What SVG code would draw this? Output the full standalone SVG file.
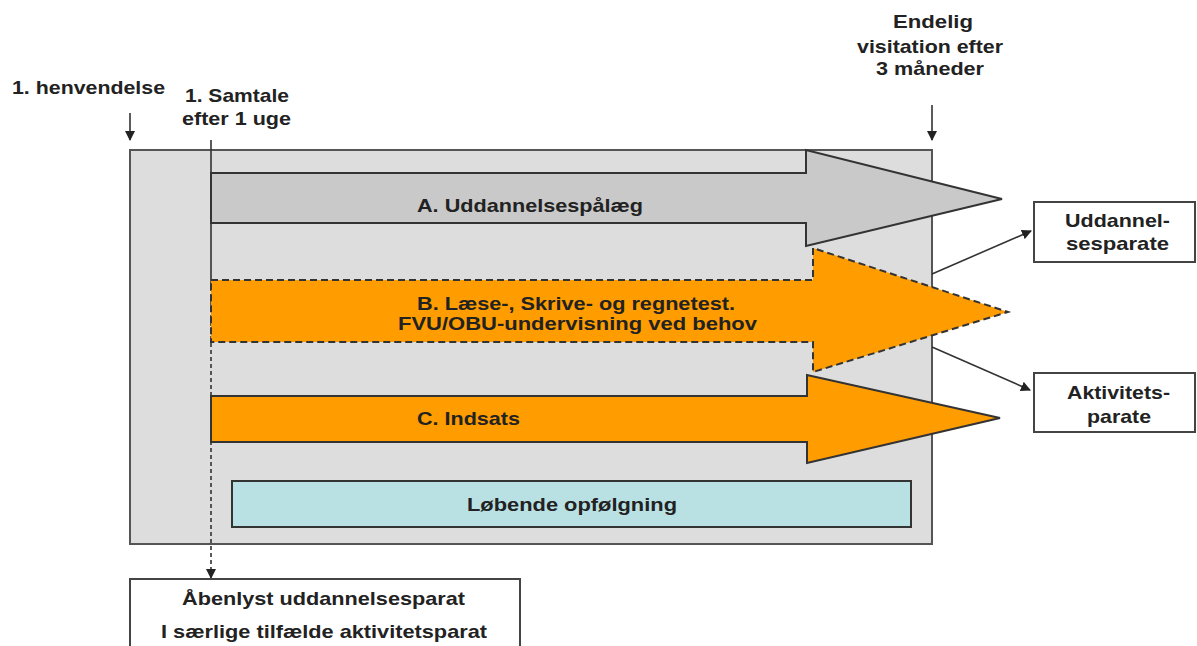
<svg xmlns="http://www.w3.org/2000/svg" width="1197" height="646" viewBox="0 0 1197 646">
<defs>
<style>
text{font-family:"Liberation Sans",Arial,sans-serif;font-weight:bold;fill:#222;}
.lbl{font-size:19px;}
.ln{stroke:#333;stroke-width:1.6;fill:none;}
.box{fill:#fff;stroke:#444;stroke-width:2;}
</style>
<marker id="ah" viewBox="0 0 10 10" refX="9" refY="5" markerWidth="10" markerHeight="10" markerUnits="userSpaceOnUse" orient="auto">
<path d="M0,0 L10,5 L0,10 z" fill="#222"/>
</marker>
</defs>
<rect width="1197" height="646" fill="#fff"/>

<g id="frame">
<rect x="130" y="150" width="802" height="394" fill="#dddddd" stroke="#555" stroke-width="2"/>
</g>

<g id="connectors">
<line class="ln" x1="130" y1="113" x2="130" y2="140" marker-end="url(#ah)"/>
<line class="ln" x1="932" y1="105" x2="932" y2="140" marker-end="url(#ah)"/>
<line class="ln" x1="211" y1="140" x2="211" y2="280"/>
<line class="ln" x1="211" y1="280" x2="211" y2="578" stroke-width="2.4" stroke-dasharray="4,3" marker-end="url(#ah)"/>
<line class="ln" x1="932" y1="274" x2="1031" y2="231" marker-end="url(#ah)"/>
<line class="ln" x1="932" y1="347" x2="1030" y2="390" marker-end="url(#ah)"/>
</g>

<g id="arrowA">
<polygon points="211,173 806,173 806,150 1002,199 806,246 806,223 211,223" fill="#c9c9c9" stroke="#333" stroke-width="2"/>
<text class="lbl" x="417" y="212" textLength="226" lengthAdjust="spacingAndGlyphs">A. Uddannelsespålæg</text>
</g>

<g id="arrowB">
<polygon points="211,280 813,280 813,248 1008,312 813,372 813,342 211,342" fill="#ff9c00" stroke="#333" stroke-width="2" stroke-dasharray="7,4"/>
<text class="lbl" x="417" y="310" textLength="318" lengthAdjust="spacingAndGlyphs">B. Læse-, Skrive- og regnetest.</text>
<text class="lbl" x="398" y="330" textLength="359" lengthAdjust="spacingAndGlyphs">FVU/OBU-undervisning ved behov</text>
</g>

<g id="arrowC">
<polygon points="211,396 807,396 807,375 1000,418 807,463 807,442 211,442" fill="#ff9c00" stroke="#333" stroke-width="2"/>
<text class="lbl" x="417" y="425" textLength="103" lengthAdjust="spacingAndGlyphs">C. Indsats</text>
</g>

<g id="followup">
<rect x="232" y="481" width="679" height="46" fill="#b9e1e4" stroke="#333" stroke-width="2"/>
<text class="lbl" x="467" y="511" textLength="210" lengthAdjust="spacingAndGlyphs">Løbende opfølgning</text>
</g>

<g id="label-henvendelse">
<text class="lbl" x="12" y="94" textLength="153" lengthAdjust="spacingAndGlyphs">1. henvendelse</text>
</g>

<g id="label-samtale">
<text class="lbl" x="185" y="102" textLength="104" lengthAdjust="spacingAndGlyphs">1. Samtale</text>
<text class="lbl" x="182" y="125" textLength="109" lengthAdjust="spacingAndGlyphs">efter 1 uge</text>
</g>

<g id="label-endelig">
<text class="lbl" x="893" y="28" textLength="80" lengthAdjust="spacingAndGlyphs">Endelig</text>
<text class="lbl" x="857" y="53" textLength="146" lengthAdjust="spacingAndGlyphs">visitation efter</text>
<text class="lbl" x="876" y="75" textLength="108" lengthAdjust="spacingAndGlyphs">3 måneder</text>
</g>

<g id="box-uddannelsesparate">
<rect class="box" x="1034" y="202" width="161" height="60"/>
<text class="lbl" x="1065" y="227" textLength="105" lengthAdjust="spacingAndGlyphs">Uddannel-</text>
<text class="lbl" x="1066" y="250" textLength="103" lengthAdjust="spacingAndGlyphs">sesparate</text>
</g>

<g id="box-aktivitetsparate">
<rect class="box" x="1034" y="373" width="161" height="59"/>
<text class="lbl" x="1067" y="399" textLength="103" lengthAdjust="spacingAndGlyphs">Aktivitets-</text>
<text class="lbl" x="1087" y="423" textLength="64" lengthAdjust="spacingAndGlyphs">parate</text>
</g>

<g id="box-abenlyst">
<rect class="box" x="130" y="579" width="390" height="80"/>
<text class="lbl" x="182" y="605" textLength="283" lengthAdjust="spacingAndGlyphs">Åbenlyst uddannelsesparat</text>
<text class="lbl" x="161" y="638" textLength="326" lengthAdjust="spacingAndGlyphs">I særlige tilfælde aktivitetsparat</text>
</g>
</svg>
